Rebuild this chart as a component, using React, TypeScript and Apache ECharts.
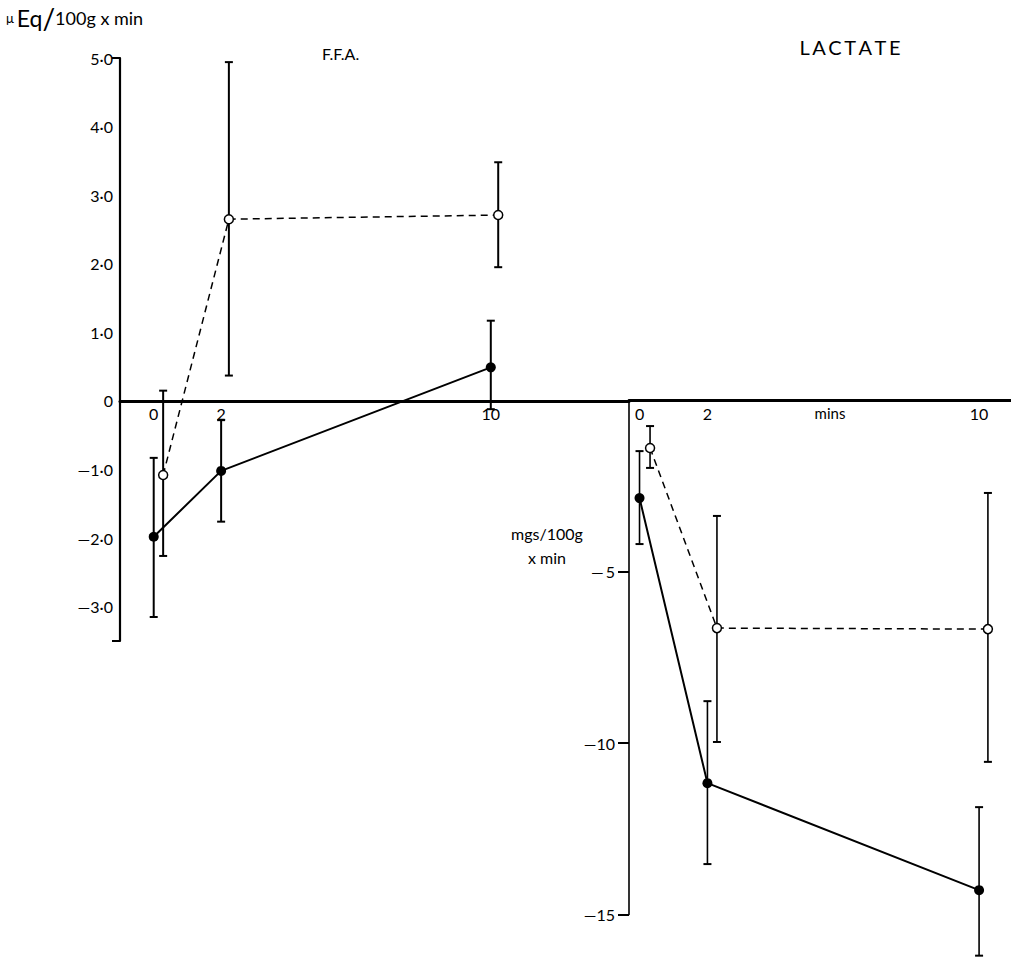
import React, { useEffect, useRef } from 'react';
import * as echarts from 'echarts';

// ---- data ----
const timeTicks = [0, 2, 10];

// F.F.A. (µEq/100g x min)
const ffaSolidTimes = [0, 2, 10];
const ffaSolidMean = [-1.98, -1.02, 0.49];
const ffaSolidLow = [-3.15, -1.76, -0.12];
const ffaSolidHigh = [-0.83, -0.28, 1.17];

const ffaOpenTimes = [0.28, 2.23, 10.22];
const ffaOpenMean = [-1.08, 2.65, 2.71];
const ffaOpenLow = [-2.26, 0.37, 1.95];
const ffaOpenHigh = [0.15, 4.94, 3.48];

// LACTATE (mgs/100g x min)
const lacSolidTimes = [0, 2, 10];
const lacSolidMean = [-2.86, -11.17, -14.29];
const lacSolidLow = [-4.2, -13.53, -16.2];
const lacSolidHigh = [-1.49, -8.78, -11.87];

const lacOpenTimes = [0.31, 2.28, 10.26];
const lacOpenMean = [-1.4, -6.65, -6.68];
const lacOpenLow = [-1.98, -9.97, -10.55];
const lacOpenHigh = [-0.76, -3.38, -2.71];

const ffaTicks = [5, 4, 3, 2, 1, 0, -1, -2, -3];
const lacTicks = [-5, -10, -15];

const FONT = 'Lato, "Noto Sans", sans-serif';

function fmtFfa(v: number) {
  if (v === 0) return '0';
  const s = Math.abs(v).toFixed(1).replace('.', '\u00b7');
  return v < 0 ? '\u2014' + s : s;
}
function fmtLac(v: number) {
  const a = Math.abs(v);
  return a < 10 ? '\u2014\u2009' + a : '\u2014' + a;
}

function errRender(width: number) {
  return (params: any, api: any) => {
    const x = api.value(0);
    const lo = api.value(1);
    const hi = api.value(2);
    const p1 = api.coord([x, hi]);
    const p2 = api.coord([x, lo]);
    const c = 4;
    const style = { stroke: '#000', lineWidth: width };
    return {
      type: 'group',
      children: [
        { type: 'line', shape: { x1: p1[0], y1: p1[1], x2: p2[0], y2: p2[1] }, style },
        { type: 'line', shape: { x1: p1[0] - c, y1: p1[1], x2: p1[0] + c, y2: p1[1] }, style: { stroke: '#000', lineWidth: 2 } },
        { type: 'line', shape: { x1: p2[0] - c, y1: p2[1], x2: p2[0] + c, y2: p2[1] }, style: { stroke: '#000', lineWidth: 2 } },
      ],
    };
  };
}

const zip3 = (t: number[], a: number[], b: number[]) => t.map((x, i) => [x, a[i], b[i]]);
const zip2 = (t: number[], a: number[]) => t.map((x, i) => [x, a[i]]);

const FFA_MIN = -3.5;
const FFA_MAX = 5;
const LEFT_TOP = 58;
const LEFT_H = 583;

export default function App() {
  const ref = useRef<HTMLDivElement>(null);
  useEffect(() => {
    if (!ref.current) return;
    const chart = echarts.init(ref.current, null, { renderer: 'svg' });
    const xLabel = (v: number) => (timeTicks.includes(v) ? String(v) : '');
    // distance from the grid bottom up to the zero line, so the left axis sits on y = 0
    const zeroOffset = -LEFT_H * (0 - FFA_MIN) / (FFA_MAX - FFA_MIN);
    const option: any = {
      animation: false,
      backgroundColor: '#fff',
      grid: [
        { left: 120, top: LEFT_TOP, width: 509, height: LEFT_H },
        { left: 629, top: 400, width: 382, height: 514.5 },
      ],
      xAxis: [
        {
          gridIndex: 0, type: 'value', min: -1, max: 14.1, position: 'bottom', offset: zeroOffset,
          axisLine: { onZero: false, lineStyle: { color: '#000', width: 3 } },
          axisTick: { show: false }, splitLine: { show: false },
          axisLabel: { customValues: timeTicks, formatter: xLabel, color: '#000', fontSize: 16, margin: 5, fontFamily: FONT },
        },
        {
          gridIndex: 1, type: 'value', min: -0.31, max: 10.94, position: 'top',
          axisLine: { onZero: false, lineStyle: { color: '#000', width: 3 } },
          axisTick: { show: false }, splitLine: { show: false },
          axisLabel: { inside: true, customValues: timeTicks, formatter: xLabel, color: '#000', fontSize: 16, margin: 5, fontFamily: FONT },
        },
      ],
      yAxis: [
        {
          gridIndex: 0, type: 'value', min: FFA_MIN, max: FFA_MAX,
          axisLine: { show: true, onZero: false, lineStyle: { color: '#000', width: 2.2 } },
          axisTick: { show: true, customValues: [5, -3.5], length: 8, lineStyle: { color: '#000', width: 2 } },
          axisLabel: { customValues: ffaTicks, formatter: fmtFfa, color: '#000', fontSize: 16, margin: 7, fontFamily: FONT },
          splitLine: { show: false },
        },
        {
          gridIndex: 1, type: 'value', min: -15, max: 0,
          axisLine: { show: true, onZero: false, lineStyle: { color: '#000', width: 1.6 } },
          axisTick: { show: true, customValues: lacTicks, length: 11, lineStyle: { color: '#000', width: 2 } },
          axisLabel: { customValues: lacTicks, formatter: fmtLac, color: '#000', fontSize: 16, margin: 14, fontFamily: FONT },
          splitLine: { show: false },
        },
      ],
      series: [
        { type: 'custom', xAxisIndex: 0, yAxisIndex: 0, renderItem: errRender(2), data: zip3(ffaSolidTimes, ffaSolidLow, ffaSolidHigh), encode: { x: 0, y: [1, 2] }, clip: false, z: 1 },
        { type: 'custom', xAxisIndex: 0, yAxisIndex: 0, renderItem: errRender(2), data: zip3(ffaOpenTimes, ffaOpenLow, ffaOpenHigh), encode: { x: 0, y: [1, 2] }, clip: false, z: 1 },
        { type: 'custom', xAxisIndex: 1, yAxisIndex: 1, renderItem: errRender(1.6), data: zip3(lacSolidTimes, lacSolidLow, lacSolidHigh), encode: { x: 0, y: [1, 2] }, clip: false, z: 1 },
        { type: 'custom', xAxisIndex: 1, yAxisIndex: 1, renderItem: errRender(1.6), data: zip3(lacOpenTimes, lacOpenLow, lacOpenHigh), encode: { x: 0, y: [1, 2] }, clip: false, z: 1 },
        {
          type: 'line', xAxisIndex: 0, yAxisIndex: 0, data: zip2(ffaSolidTimes, ffaSolidMean),
          symbol: 'circle', symbolSize: 10, itemStyle: { color: '#000' }, lineStyle: { color: '#000', width: 2 }, z: 3,
        },
        {
          type: 'line', xAxisIndex: 0, yAxisIndex: 0, data: zip2(ffaOpenTimes, ffaOpenMean),
          symbol: 'circle', symbolSize: 9, itemStyle: { color: '#fff', borderColor: '#000', borderWidth: 1.5 },
          lineStyle: { color: '#000', width: 1.5, type: [7, 5] }, z: 3,
        },
        {
          type: 'line', xAxisIndex: 1, yAxisIndex: 1, data: zip2(lacSolidTimes, lacSolidMean),
          symbol: 'circle', symbolSize: 10, itemStyle: { color: '#000' }, lineStyle: { color: '#000', width: 2 }, z: 3, clip: false,
        },
        {
          type: 'line', xAxisIndex: 1, yAxisIndex: 1, data: zip2(lacOpenTimes, lacOpenMean),
          symbol: 'circle', symbolSize: 9, itemStyle: { color: '#fff', borderColor: '#000', borderWidth: 1.5 },
          lineStyle: { color: '#000', width: 1.5, type: [7, 5] }, z: 3,
        },
      ],
      graphic: [
        {
          type: 'text', left: 6, top: 4,
          style: {
            text: '{a|\u03bc}{b|Eq}{c|/}{d|100g x min}',
            rich: {
              a: { fontSize: 13, fontFamily: FONT, fill: '#000' },
              b: { fontSize: 23, fontFamily: FONT, fill: '#000', padding: [0, 0, 0, 3] },
              c: { fontSize: 28, fontFamily: FONT, fill: '#000' },
              d: { fontSize: 18, fontFamily: FONT, fill: '#000' },
            },
          },
        },
        { type: 'text', x: 322, y: 53, style: { text: 'F.F.A.', fontSize: 16, fontFamily: FONT, fill: '#000', textVerticalAlign: 'middle' } },
        { type: 'text', x: 850, y: 47, style: { text: 'L\u2009A\u2009C\u2009T\u2009A\u2009T\u2009E', fontSize: 20, fontFamily: FONT, fill: '#000', textAlign: 'center', textVerticalAlign: 'middle' } },
        { type: 'text', x: 830, y: 413, style: { text: 'mins', fontSize: 15, fontFamily: FONT, fill: '#000', textAlign: 'center', textVerticalAlign: 'middle' } },
        { type: 'text', x: 547, y: 533, style: { text: 'mgs/100g', fontSize: 16, fontFamily: FONT, fill: '#000', textAlign: 'center', textVerticalAlign: 'middle' } },
        { type: 'text', x: 547, y: 557, style: { text: 'x min', fontSize: 16, fontFamily: FONT, fill: '#000', textAlign: 'center', textVerticalAlign: 'middle' } },
      ],
    };
    chart.setOption(option);
    return () => chart.dispose();
  }, []);
  return <div ref={ref} style={{ position: 'fixed', left: 0, top: 0, width: 1011, height: 968, background: '#fff' }} />;
}
